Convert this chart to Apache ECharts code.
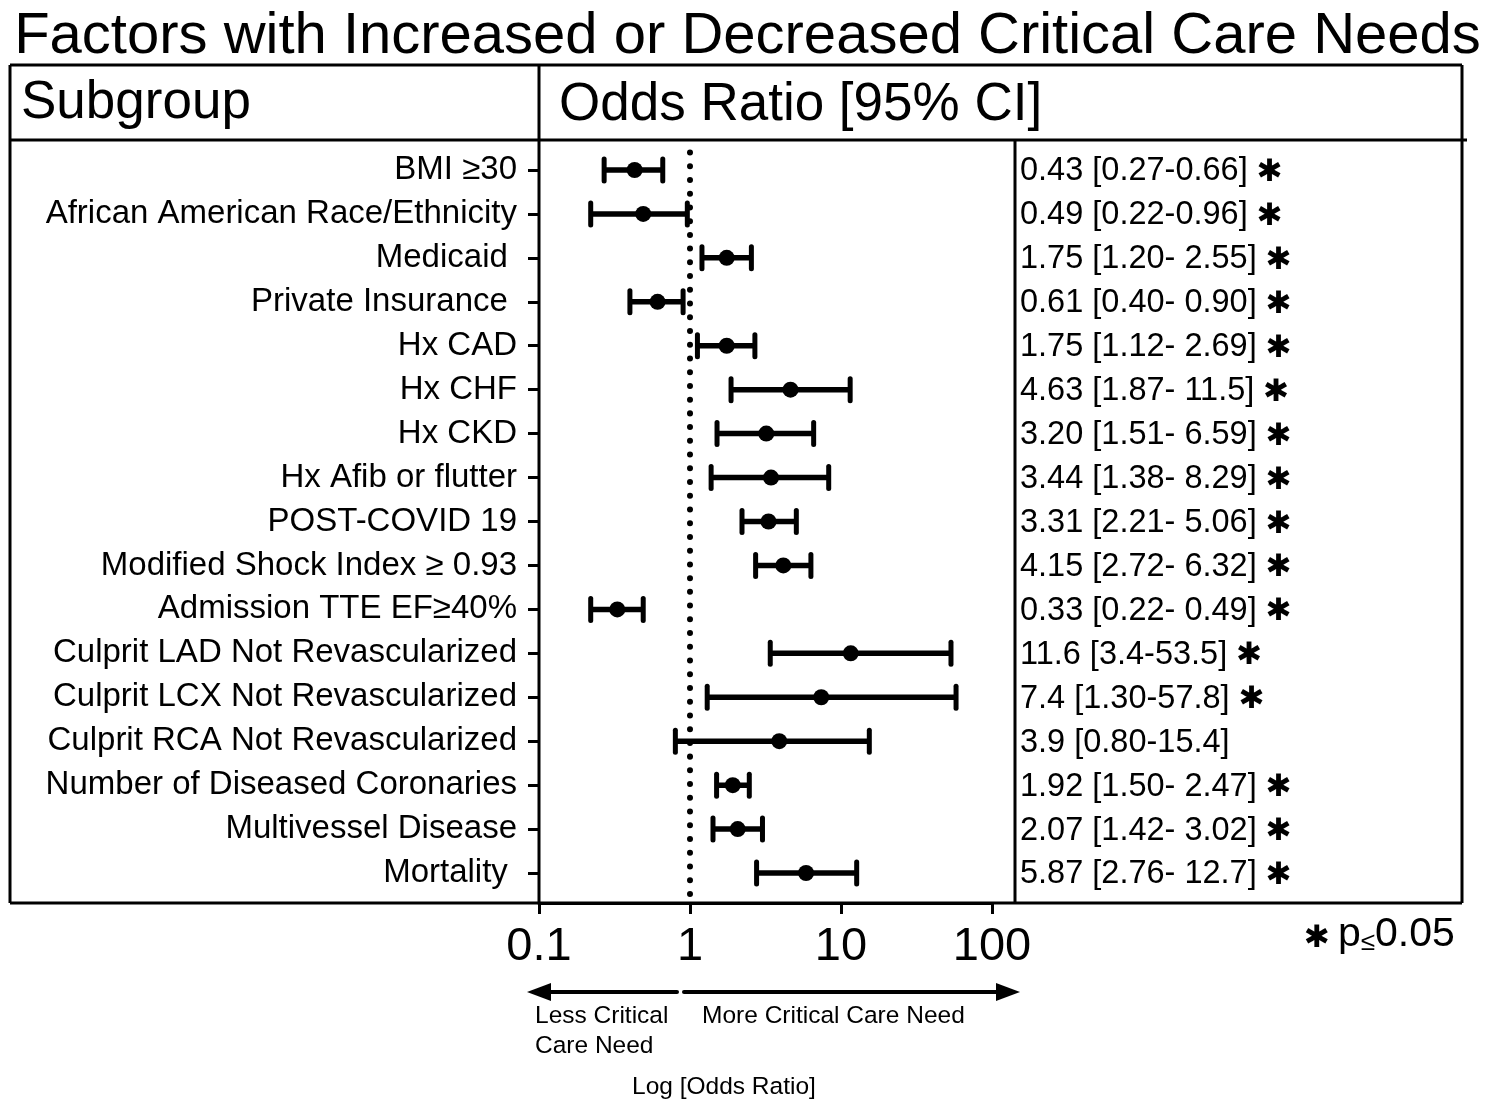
<!DOCTYPE html>
<html>
<head>
<meta charset="utf-8">
<script src="https://cdn.jsdelivr.net/npm/echarts@6/dist/echarts.min.js"></script>
<style>
html,body{margin:0;padding:0;background:#fff;}
#chart{width:1495px;height:1111px;}
</style>
</head>
<body>
<div id="chart"></div>
<script>
// ---- Data ----
const subgroups = [
  "BMI \u226530",
  "African American Race/Ethnicity",
  "Medicaid ",
  "Private Insurance ",
  "Hx CAD",
  "Hx CHF",
  "Hx CKD",
  "Hx Afib or flutter",
  "POST-COVID 19",
  "Modified Shock Index \u2265 0.93",
  "Admission TTE EF\u226540%",
  "Culprit LAD Not Revascularized",
  "Culprit LCX Not Revascularized",
  "Culprit RCA Not Revascularized",
  "Number of Diseased Coronaries",
  "Multivessel Disease",
  "Mortality "
];
const oddsRatio = [0.43, 0.49, 1.75, 0.61, 1.75, 4.63, 3.20, 3.44, 3.31, 4.15, 0.33, 11.6, 7.4, 3.9, 1.92, 2.07, 5.87];
const ciLow     = [0.27, 0.22, 1.20, 0.40, 1.12, 1.87, 1.51, 1.38, 2.21, 2.72, 0.22, 3.4, 1.30, 0.80, 1.50, 1.42, 2.76];
const ciHigh    = [0.66, 0.96, 2.55, 0.90, 2.69, 11.5, 6.59, 8.29, 5.06, 6.32, 0.49, 53.5, 57.8, 15.4, 2.47, 3.02, 12.7];
const ciLabels = [
  "0.43 [0.27-0.66]",
  "0.49 [0.22-0.96]",
  "1.75 [1.20- 2.55]",
  "0.61 [0.40- 0.90]",
  "1.75 [1.12- 2.69]",
  "4.63 [1.87- 11.5]",
  "3.20 [1.51- 6.59]",
  "3.44 [1.38- 8.29]",
  "3.31 [2.21- 5.06]",
  "4.15 [2.72- 6.32]",
  "0.33 [0.22- 0.49]",
  "11.6 [3.4-53.5]",
  "7.4 [1.30-57.8]",
  "3.9 [0.80-15.4]",
  "1.92 [1.50- 2.47]",
  "2.07 [1.42- 3.02]",
  "5.87 [2.76- 12.7]"
];
const significant = [1,1,1,1,1,1,1,1,1,1,1,1,1,0,1,1,1];
const xTicks = [0.1, 1, 10, 100];
const refLine = 1;

// ---- Chart ----
const FONT = '"Liberation Sans", Arial, Helvetica, sans-serif';
const chart = echarts.init(document.getElementById('chart'), null, {renderer: 'canvas'});

const rightLabels = ciLabels.map((s, i) => significant[i] ? s + ' {s|\u2731}' : s);
const barData = subgroups.map((c, i) => [ciLow[i], ciHigh[i], c]);
const dotData = subgroups.map((c, i) => [oddsRatio[i], c]);

const option = {
  backgroundColor: '#fff',
  animation: false,
  textStyle: {fontFamily: FONT, color: '#000'},
  title: {
    text: 'Factors with Increased or Decreased Critical Care Needs',
    left: 'center',
    top: 3,
    textStyle: {fontFamily: FONT, fontSize: 58, fontWeight: 'normal', color: '#000'}
  },
  grid: {left: 539, right: 503, top: 148, height: 747, containLabel: false},
  xAxis: {
    type: 'log',
    logBase: 10,
    min: xTicks[0],
    max: xTicks[xTicks.length - 1],
    offset: 8,
    axisLine: {show: true, lineStyle: {color: '#000', width: 3}},
    axisTick: {show: true, length: 11, lineStyle: {color: '#000', width: 3}},
    axisLabel: {color: '#000', fontSize: 47, fontFamily: FONT, margin: 21},
    splitLine: {show: false},
    minorTick: {show: false}
  },
  yAxis: [
    {
      type: 'category',
      data: subgroups,
      inverse: true,
      axisLine: {show: false},
      axisTick: {show: true, alignWithLabel: true, length: 11, lineStyle: {color: '#000', width: 3}},
      axisLabel: {color: '#000', fontSize: 33, fontFamily: FONT, margin: 22, interval: 0, padding: [3, 0, 0, 0]},
      splitLine: {show: false}
    },
    {
      type: 'category',
      data: subgroups,
      inverse: true,
      position: 'right',
      axisLine: {show: false},
      axisTick: {show: false},
      axisLabel: {
        interval: 0,
        margin: 28,
        align: 'left',
        color: '#000',
        fontSize: 32.5,
        fontFamily: FONT,
        padding: [3, 0, 0, 0],
        formatter: (v) => rightLabels[subgroups.indexOf(v)],
        rich: {s: {fontSize: 31, fontFamily: '"DejaVu Sans"', fontWeight: 'bold', color: '#000', padding: [3, 0, 0, 0]}}
      },
      splitLine: {show: false}
    }
  ],
  series: [
    {
      name: 'ref',
      type: 'custom',
      data: [[refLine, subgroups[0]]],
      encode: {x: 0, y: 1},
      silent: true,
      renderItem: function (params, api) {
        const x = api.coord([api.value(0), subgroups[0]])[0];
        const cs = params.coordSys;
        return {
          type: 'line',
          shape: {x1: x, y1: cs.y + 4.5, x2: x, y2: cs.y + cs.height + 1},
          style: {stroke: '#000', lineWidth: 6, lineDash: [0.01, 13.72], lineCap: 'round'}
        };
      },
      z: 1
    },
    {
      name: 'CI',
      type: 'custom',
      data: barData,
      encode: {x: [0, 1], y: 2},
      silent: true,
      renderItem: function (params, api) {
        const cat = api.value(2);
        const p1 = api.coord([api.value(0), cat]);
        const p2 = api.coord([api.value(1), cat]);
        const h = 11;
        const st = {stroke: '#000', lineWidth: 5, lineCap: 'round'};
        return {
          type: 'group',
          children: [
            {type: 'line', shape: {x1: p1[0], y1: p1[1], x2: p2[0], y2: p2[1]}, style: {stroke: '#000', lineWidth: 5.5}},
            {type: 'line', shape: {x1: p1[0], y1: p1[1] - h, x2: p1[0], y2: p1[1] + h}, style: st},
            {type: 'line', shape: {x1: p2[0], y1: p2[1] - h, x2: p2[0], y2: p2[1] + h}, style: st}
          ]
        };
      },
      z: 2
    },
    {
      name: 'OR',
      type: 'scatter',
      data: dotData,
      symbol: 'circle',
      symbolSize: 16,
      itemStyle: {color: '#000', opacity: 1},
      silent: true,
      z: 3
    }
  ],
  graphic: [
    // box
    {type: 'line', shape: {x1: 10, y1: 65, x2: 1462, y2: 65}, style: {stroke: '#000', lineWidth: 3}},
    {type: 'line', shape: {x1: 10, y1: 140, x2: 1467, y2: 140}, style: {stroke: '#000', lineWidth: 3}},
    {type: 'line', shape: {x1: 10, y1: 903, x2: 1462, y2: 903}, style: {stroke: '#000', lineWidth: 3}},
    {type: 'line', shape: {x1: 10, y1: 65, x2: 10, y2: 903}, style: {stroke: '#000', lineWidth: 3}},
    {type: 'line', shape: {x1: 539, y1: 65, x2: 539, y2: 903}, style: {stroke: '#000', lineWidth: 3}},
    {type: 'line', shape: {x1: 1015, y1: 140, x2: 1015, y2: 903}, style: {stroke: '#000', lineWidth: 3}},
    {type: 'line', shape: {x1: 1462, y1: 65, x2: 1462, y2: 903}, style: {stroke: '#000', lineWidth: 3}},
    // header texts
    {type: 'text', x: 21, y: 103, style: {text: 'Subgroup', font: '53px ' + FONT, fill: '#000', textVerticalAlign: 'middle'}},
    {type: 'text', x: 559, y: 105, style: {text: 'Odds Ratio [95% CI]', font: '53px ' + FONT, fill: '#000', textVerticalAlign: 'middle'}},
    // arrows
    {type: 'line', shape: {x1: 677, y1: 992, x2: 545, y2: 992}, style: {stroke: '#000', lineWidth: 4, lineCap: 'round'}},
    {type: 'polygon', shape: {points: [[527, 992], [551, 983], [551, 1001]]}, style: {fill: '#000'}},
    {type: 'line', shape: {x1: 684, y1: 992, x2: 1002, y2: 992}, style: {stroke: '#000', lineWidth: 4, lineCap: 'round'}},
    {type: 'polygon', shape: {points: [[1020, 992], [996, 983], [996, 1001]]}, style: {fill: '#000'}},
    {type: 'text', x: 535, y: 1016, style: {text: 'Less Critical', font: '24.5px ' + FONT, fill: '#000', textVerticalAlign: 'middle'}},
    {type: 'text', x: 535, y: 1046, style: {text: 'Care Need', font: '24.5px ' + FONT, fill: '#000', textVerticalAlign: 'middle'}},
    {type: 'text', x: 702, y: 1016, style: {text: 'More Critical Care Need', font: '24.5px ' + FONT, fill: '#000', textVerticalAlign: 'middle'}},
    {type: 'text', x: 632, y: 1087, style: {text: 'Log [Odds Ratio]', font: '24.5px ' + FONT, fill: '#000', textVerticalAlign: 'middle'}},
    // p-value legend
    {type: 'text', x: 1304, y: 939, style: {text: '\u2731', font: 'bold 31px "DejaVu Sans"', fill: '#000', textVerticalAlign: 'middle'}},
    {type: 'text', x: 1338, y: 935, style: {text: '{p|p}{le|\u2264}{p|0.05}', textVerticalAlign: 'middle', rich: {p: {fontSize: 41, fontFamily: FONT, fill: '#000'}, le: {fontSize: 26, fontFamily: FONT, fill: '#000', verticalAlign: 'bottom'}}}}
  ]
};
chart.setOption(option);
</script>
</body>
</html>
